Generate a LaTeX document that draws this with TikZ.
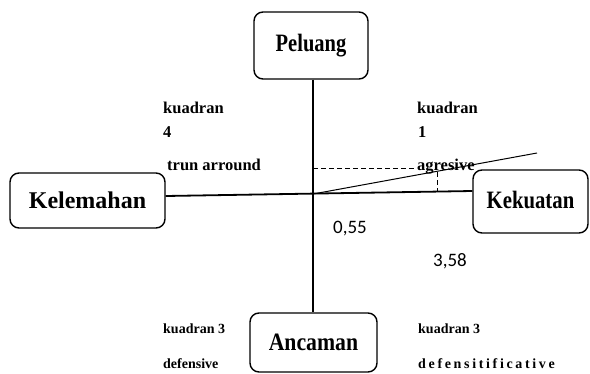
\documentclass[tikz,border=0pt]{standalone}
\usepackage{fontspec}
\usepackage{graphicx}
\setmainfont{Liberation Serif}
\newfontfamily\numfont{Carlito}
\begin{document}
\begin{tikzpicture}[x=1pt,y=-1pt,
  boxnode/.style={draw=black,line width=1.4pt,rounded corners=9pt,inner sep=0pt,font=\bfseries\fontsize{25}{28}\selectfont},
  qlabel/.style={anchor=base west,inner sep=0pt,font=\bfseries\fontsize{16.5}{18}\selectfont},
  qsmall/.style={anchor=base west,inner sep=0pt,font=\bfseries\fontsize{14}{16}\selectfont},
  numlabel/.style={anchor=base west,inner sep=0pt,font=\numfont\fontsize{19}{21}\selectfont},
  axis/.style={draw=black,line width=1.5pt},
  guide/.style={draw=black,line width=0.9pt,dash pattern=on 5pt off 3pt}]
\useasboundingbox (0,0) rectangle (590,373);
% boxes
\node[boxnode,minimum width=114pt,minimum height=67pt] (Peluang) at (311,45.5)
  {\raisebox{1.5pt}{\scalebox{0.82}[1]{Peluang}}};
\node[boxnode,minimum width=155pt,minimum height=55pt] (Kelemahan) at (87.5,200.5)
  {\fontsize{24}{27}\selectfont Kelemahan};
\node[boxnode,minimum width=115pt,minimum height=63pt] (Kekuatan) at (530.5,201.5)
  {\raisebox{3pt}{\scalebox{0.83}[1]{Kekuatan}}};
\node[boxnode,minimum width=127pt,minimum height=59pt] (Ancaman) at (313.5,342.5)
  {\scalebox{0.87}[1]{Ancaman}};
% axes
\coordinate (O) at (313,194);
\draw[axis] (Peluang.south -| O) -- (Ancaman.north -| O);
\draw[axis,line width=1.8pt] ([yshift=4.5pt]Kelemahan.east) -- ([yshift=10.5pt]Kekuatan.west);
% sloped line and guides
\coordinate (S) at (537,153);
\draw[black,line width=1pt] (O) -- (S);
\coordinate (Dh) at (415,168);
\draw[guide] (O |- Dh) -- (Dh);
\coordinate (Dt) at (437,172);
\coordinate (Db) at (437,191);
\draw[guide] (Dt) -- (Db);
% labels
\node[qlabel] (k4) at (163,113) {kuadran};
\node[qlabel] (n4) at (163,137) {4};
\node[qlabel] (t4) at (167,170) {trun arround};
\node[qlabel] (k1) at (417,113) {kuadran};
\node[qlabel] (n1) at (418,137) {1};
\node[qlabel] (t1) at (417,170) {agresive};
\node[qsmall] (k3a) at (163,333) {kuadran 3};
\node[qsmall] (d3a) at (163,368) {defensive};
\node[qsmall] (k3b) at (418,333) {kuadran 3};
\node[qsmall,font=\bfseries\fontsize{14}{16}\selectfont\addfontfeature{LetterSpace=19}] (d3b) at (418,368) {defensitificative};
\node[numlabel] (v1) at (333,233) {0,55};
\node[numlabel] (v2) at (433,266) {3,58};
\end{tikzpicture}
\end{document}
